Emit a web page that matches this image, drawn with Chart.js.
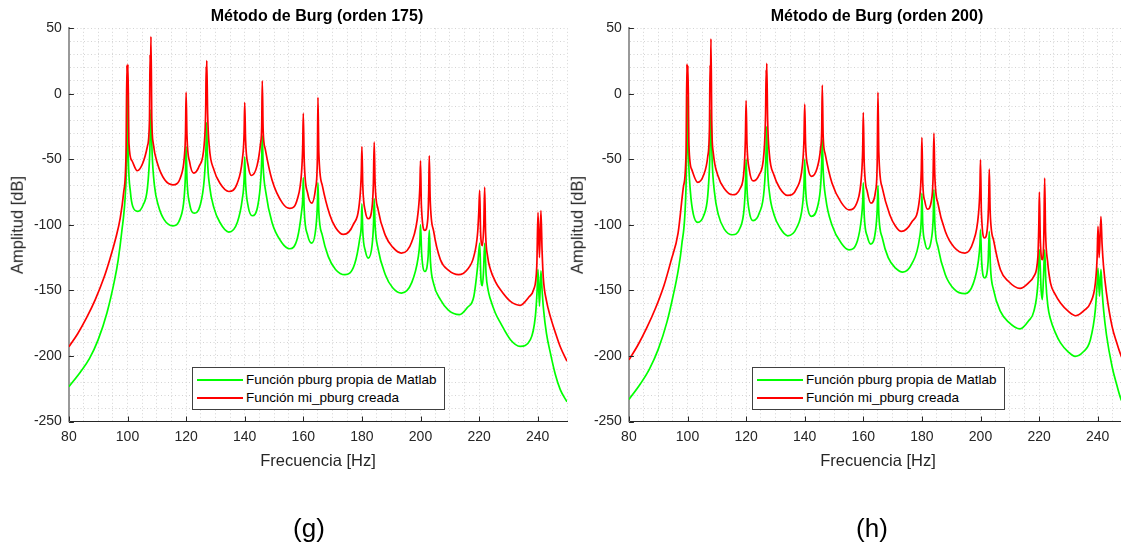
<!DOCTYPE html>
<html>
<head>
<meta charset="utf-8">
<script src="https://cdn.jsdelivr.net/npm/chart.js@4.4.1/dist/chart.umd.min.js"></script>
<style>
  html, body { margin: 0; padding: 0; width: 1121px; height: 546px; overflow: hidden; background: #fff; }
  body { position: relative; font-family: "Liberation Sans", Arial, sans-serif; color: #262626; }
  canvas { position: absolute; top: 0; }
  .txt { position: absolute; white-space: nowrap; line-height: 1; transform: translate(-50%, -50%); }
  .title { font-weight: bold; font-size: 16px; color: #000; }
  .xlab { font-size: 16.5px; }
  .ylab { font-size: 16.5px; transform: translate(-50%, -50%) rotate(-90deg); }
  .sub { font-size: 26px; color: #000; }
  .legend { position: absolute; width: 251px; height: 41px; border: 1px solid #404040; background: #fff; font-size: 13.5px; color: #000; }
  .legend .sw { position: absolute; left: 4px; width: 46px; height: 2px; }
  .legend .lt { position: absolute; left: 53px; line-height: 1; white-space: nowrap; }
</style>
</head>
<body>
<canvas id="c175" width="580" height="546" style="left:0px"></canvas>
<canvas id="c200" width="580" height="546" style="left:560px"></canvas>

<div class="txt title" id="t175" style="left:317px; top:16px"></div>
<div class="txt title" id="t200" style="left:877px; top:16px"></div>
<div class="txt xlab" style="left:318px; top:460px">Frecuencia [Hz]</div>
<div class="txt xlab" style="left:878px; top:460px">Frecuencia [Hz]</div>
<div class="txt ylab" style="left:17px; top:225px">Amplitud [dB]</div>
<div class="txt ylab" style="left:577px; top:225px">Amplitud [dB]</div>
<div class="txt sub" style="left:309px; top:528px">(g)</div>
<div class="txt sub" style="left:872px; top:528px">(h)</div>

<div class="legend" id="leg175" style="left:192px; top:367px"></div>
<div class="legend" id="leg200" style="left:752px; top:367px"></div>

<script>
// ejes
const xMajor = [80, 100, 120, 140, 160, 180, 200, 220, 240];
const yMajor = [-250, -200, -150, -100, -50, 0, 50];
const seriesNames = ['Función pburg propia de Matlab', 'Función mi_pburg creada'];
const seriesColors = ['#00ff00', '#ff0000'];
const titles = ['Método de Burg (orden 175)', 'Método de Burg (orden 200)'];

// orden 175 - pburg (verde)
const freqG175 = [80, 84, 87, 90, 93, 95.6, 96.8, 98, 99.3, 99.7,
  99.95, 100.3, 101, 101.8, 103.5, 105.3, 106.8, 107.6, 108.0, 108.4,
  109.2, 110.5, 112.5, 115.5, 118, 119.3, 119.8, 120.0, 120.3, 121.2,
  122.8, 124.8, 126.2, 126.8, 127.0, 127.3, 128, 129.5, 131.5, 134.6,
  137.5, 139.2, 139.8, 140.0, 140.3, 141.2, 142.6, 144.5, 145.5, 145.8,
  146.0, 146.3, 147.2, 149.3, 152.5, 155.4, 158, 159.4, 159.8, 160.0,
  160.3, 161.5, 162.9, 164.3, 164.8, 165.0, 165.3, 166.5, 168.5, 171,
  174.2, 177.5, 179.3, 179.8, 180.0, 180.3, 181.2, 182.2, 183.5, 183.95,
  184.2, 184.5, 185.5, 188, 190.5, 193.5, 197, 199.2, 199.8, 200.0,
  200.4, 201.5, 202.6, 203.0, 203.4, 204.5, 206.8, 209.5, 213.3, 216,
  218.2, 219.5, 220.2, 220.6, 221.1, 221.5, 221.9, 222.4, 223.1, 223.9,
  225.5, 227.3, 230.7, 234, 237.5, 239.2, 239.8, 240.1, 240.6, 241.1,
  241.5, 242, 243, 244.3, 246, 247.7, 250];
const dbG175 = [-223.5, -212, -202, -187.5, -167, -142, -127, -106, -75, -50,
  1.7, -50, -75, -86, -89.7, -85, -72, -45, -12, -45,
  -70, -85, -96, -100.7, -95, -80, -60, -40, -65, -84,
  -91, -85, -65, -40, -22, -50, -70, -87, -98, -105.5,
  -98, -80, -65, -48, -68, -86, -93, -85, -65, -50,
  -32, -55, -75, -98, -113, -118.2, -110, -90, -80, -64,
  -88, -108, -113.9, -102, -85, -68, -90, -108, -124, -134,
  -138, -130, -110, -100, -84, -105, -120, -125.3, -115, -100,
  -80, -100, -118, -138, -148, -152, -144, -125, -112, -100,
  -122, -135.5, -124, -104, -128, -145, -157, -165, -168.5, -163,
  -154.6, -131.7, -114, -140, -146.4, -136, -114, -138, -150, -157,
  -167, -174.8, -187.6, -192.7, -187.6, -169.8, -150, -134, -162, -135,
  -150, -164.7, -183, -197.5, -214, -225.7, -235];

// orden 175 - mi_pburg (rojo)
const freqR175 = [80, 83, 86, 89, 92, 94, 96, 97.5, 98.7, 99.5,
  99.8, 99.95, 100.15, 100.5, 101.5, 103.3, 105.2, 106.8, 107.5, 107.7,
  107.85, 108.0, 108.3, 108.8, 110.2, 112.7, 115.5, 118.2, 119.4, 119.8,
  120.0, 120.3, 121.2, 122.6, 124.5, 126.2, 126.7, 126.85, 126.95, 127.05,
  127.35, 127.9, 129.5, 131.5, 134.6, 137.5, 139.2, 139.8, 140.0, 140.3,
  141.2, 142.3, 144.2, 145.4, 145.8, 146.0, 146.3, 147, 149.3, 152.9,
  155.4, 158, 159.4, 159.8, 160.0, 160.3, 161.5, 162.9, 164.2, 164.8,
  165.0, 165.3, 166.5, 169, 171, 173.7, 177, 179.3, 179.8, 180.0,
  180.3, 181.2, 182.2, 183.4, 183.9, 184.2, 184.5, 185.5, 188, 190.5,
  193.5, 197, 199.2, 199.8, 200.0, 200.3, 201.5, 202.5, 202.8, 203.0,
  203.3, 204.5, 206.8, 209.5, 213, 216, 218.2, 219.5, 219.9, 220.2,
  220.5, 221.1, 221.6, 221.9, 222.2, 222.9, 223.9, 225.5, 227.3, 230.7,
  234, 237, 238.6, 239.7, 240.1, 240.6, 241.1, 241.5, 241.9, 243,
  244.3, 246, 247.7, 250];
const dbR175 = [-193, -183, -171, -157, -140, -126, -110, -95, -75, -45,
  22, 0, 22.5, -38, -51, -58.7, -53, -40, -20, 30,
  10, 43.6, -20, -38, -53, -65.6, -69.4, -63, -48, -30,
  1.2, -32, -52, -60.5, -55, -38, -10, 21, 10, 25.4,
  -15, -40, -58, -68, -74.5, -68, -50, -30, -6.7, -35,
  -55, -62.3, -55, -38, -25, 9.9, -28, -42, -65.6, -83.4,
  -87.4, -80, -60, -40, -14.8, -50, -76, -83.4, -72, -50,
  -2.6, -45, -70, -92, -102, -107.3, -100, -80, -60, -40.2,
  -70, -90, -95.3, -88, -70, -36.9, -68, -88, -108, -117,
  -121.5, -113, -90, -70, -51.1, -85, -104.2, -95, -75, -47.3,
  -80, -105, -126.6, -134.5, -138, -134, -124, -106, -90, -73.7,
  -105, -115.9, -100, -71.2, -105, -124, -134.2, -143, -149.5, -158.4,
  -161.4, -155, -149.5, -131, -90.5, -125, -89, -120, -140, -158,
  -169.8, -182, -193, -204];

// orden 200 - pburg (verde)
const freqG200 = [80, 84, 87, 90, 93, 95, 96.8, 98, 99.5, 99.75,
  99.95, 100.3, 101, 102, 103.5, 105.5, 106.9, 107.6, 108.0, 108.4,
  109.2, 110.5, 112.5, 115.3, 118, 119.3, 119.8, 120.0, 120.3, 121.1,
  122.4, 124.5, 126.2, 126.8, 127.0, 127.3, 128, 129.5, 131.5, 134.2,
  137.3, 139.2, 139.75, 140.0, 140.3, 141.1, 142.3, 144.4, 145.5, 145.8,
  146.0, 146.3, 147.2, 149.3, 152.5, 155.1, 158, 159.4, 159.8, 160.0,
  160.3, 161.4, 162.6, 164.2, 164.75, 165.0, 165.3, 166.5, 168.5, 171,
  173.5, 176.5, 179.2, 179.8, 180.0, 180.3, 181.0, 181.9, 183.3, 183.85,
  184.1, 184.4, 185.5, 188, 191, 194.7, 197.5, 199.3, 199.8, 200.0,
  200.4, 201.4, 202.6, 203.0, 203.4, 204.5, 206.8, 209.5, 213.5, 216.5,
  218.2, 219.6, 220.1, 220.7, 221.1, 221.5, 221.9, 222.3, 223.0, 223.9,
  225.5, 227.3, 230, 232.3, 235, 237.5, 239.2, 239.8, 240.1, 240.6,
  241.1, 241.5, 242, 243, 244.9, 246.5, 248, 250];
const dbG200 = [-233.3, -221, -210, -195, -174, -155, -135, -116, -71, -40,
  -2, -45, -75, -92, -98.1, -93, -78, -50, -12, -50,
  -75, -92, -103, -107.5, -102, -88, -68, -50, -72, -90,
  -96.8, -91, -72, -45, -25, -55, -76, -92, -102, -108.3,
  -102, -86, -70, -50, -72, -88, -93.5, -86, -68, -52,
  -35, -58, -80, -100, -114, -119, -112, -94, -82, -68,
  -92, -109, -114.6, -104, -88, -70, -92, -110, -125, -133,
  -136, -130, -110, -95, -76, -100, -113, -118.4, -110, -95,
  -73, -98, -117, -138, -149, -152.5, -145, -127, -115, -103.7,
  -128, -140.5, -128, -105, -132, -150, -166, -174, -179.4, -173,
  -166, -144.4, -119, -150, -157, -140, -119, -143, -162, -172,
  -182, -190, -197, -200.3, -197, -187.6, -164.7, -145, -133, -154.6,
  -134, -150, -164.7, -184, -208, -222, -233.3, -240];

// orden 200 - mi_pburg (rojo)
const freqR200 = [80, 83, 86, 89, 92, 94.3, 96.8, 98.6, 99.5, 99.8,
  99.95, 100.15, 100.5, 101.5, 103.5, 105.5, 106.9, 107.5, 107.7, 107.85,
  108.0, 108.3, 108.8, 110.3, 112.8, 115.3, 118, 119.3, 119.75, 120.0,
  120.3, 121.1, 122.4, 124.4, 126.1, 126.65, 126.85, 126.95, 127.05, 127.35,
  127.9, 129.5, 131.5, 134.2, 137.3, 139.2, 139.75, 140.0, 140.3, 141.1,
  142.3, 144.2, 145.4, 145.8, 146.0, 146.3, 147, 149.3, 152.5, 155.1,
  158, 159.4, 159.8, 160.0, 160.3, 161.4, 162.6, 164.2, 164.75, 165.0,
  165.3, 166.5, 169, 171, 173, 176.5, 179.2, 179.8, 180.0, 180.3,
  181.0, 181.9, 183.2, 183.8, 184.1, 184.4, 185.5, 188, 191, 194.7,
  197.5, 199.3, 199.8, 200.0, 200.3, 201.4, 202.5, 202.8, 203.0, 203.3,
  204.5, 206.8, 209.5, 213.5, 216.5, 218.2, 219.6, 219.9, 220.1, 220.4,
  221.1, 221.6, 221.9, 222.2, 222.9, 223.9, 225.5, 227.3, 230, 232.5,
  235.5, 237.5, 239.2, 239.8, 240.1, 240.5, 241.1, 241.5, 242, 243,
  244.9, 246.5, 248, 250];
const dbR200 = [-203, -192, -179, -164, -146, -128, -106, -71, -45, 22.6,
  0, 21.5, -40, -58, -67.6, -62, -48, -25, 22, 5,
  41.9, -25, -45, -62, -73, -77, -72, -58, -35, -5.1,
  -38, -58, -66.4, -62, -45, -15, 18.2, 5, 23.3, -20,
  -45, -62, -72, -77.5, -72, -55, -35, -7.9, -38, -56,
  -63, -57, -42, -28, 6.6, -32, -46, -68, -83, -88.5,
  -82, -62, -42, -14.3, -52, -75, -83.4, -74, -52, 1.2,
  -45, -72, -92, -101, -105, -98, -80, -58, -33.3, -68,
  -82, -88, -82, -65, -30, -62, -84, -105, -117, -121.5,
  -113, -92, -72, -50.4, -90, -110, -98, -80, -57.5, -90,
  -112, -134.2, -143, -148.5, -144, -139.3, -124, -100, -75, -110,
  -126.6, -110, -64.3, -105, -128, -144.4, -153, -159.6, -166, -169.3,
  -165, -159.6, -144.4, -125, -101.2, -125, -93.6, -115, -131.7, -152,
  -177.4, -190, -200, -209];

const toPoints = (fs, ds) => fs.map((f, i) => ({ x: f, y: ds[i] }));

// marcas de los ejes hacia dentro, como en Matlab
const innerTicks = {
  id: 'innerTicks',
  afterDatasetsDraw(chart) {
    const { ctx, chartArea: a, scales: { x, y } } = chart;
    ctx.save();
    ctx.strokeStyle = '#262626';
    ctx.lineWidth = 1;
    ctx.beginPath();
    xMajor.forEach(v => {
      const px = Math.round(x.getPixelForValue(v)) + 0.5;
      ctx.moveTo(px, a.bottom);
      ctx.lineTo(px, a.bottom - 5);
    });
    yMajor.forEach(v => {
      const py = Math.round(y.getPixelForValue(v)) + 0.5;
      ctx.moveTo(a.left, py);
      ctx.lineTo(a.left + 5, py);
    });
    ctx.stroke();
    ctx.restore();
  }
};

const tickFont = { family: '"Liberation Sans", Arial, sans-serif', size: 14 };

function makeChart(id, fG, dG, fR, dR) {
  return new Chart(document.getElementById(id), {
    type: 'line',
    data: {
      datasets: [{
        label: seriesNames[0],
        data: toPoints(fG, dG),
        borderColor: seriesColors[0],
        order: 1
      }, {
        label: seriesNames[1],
        data: toPoints(fR, dR),
        borderColor: seriesColors[1],
        order: 0
      }]
    },
    options: {
      responsive: false,
      animation: false,
      layout: { padding: { left: 8.9, right: 13, top: 28.3, bottom: 94.5 } },
      elements: {
        point: { radius: 0 },
        line: { borderWidth: 1.7, cubicInterpolationMode: 'monotone' }
      },
      plugins: { legend: { display: false }, tooltip: { enabled: false } },
      scales: {
        x: {
          type: 'linear', min: 80, max: 250,
          afterFit: s => { s.height = 30; },
          ticks: {
            stepSize: 5, autoSkip: false, maxRotation: 0, padding: 7,
            color: '#262626', font: tickFont,
            callback: v => (v % 20 === 0 && v <= 240) ? String(v) : ''
          },
          grid: { color: '#d4d4d4', drawTicks: false },
          border: { color: '#262626', width: 1, dash: [1, 2.5] }
        },
        y: {
          type: 'linear', min: -250, max: 50,
          afterFit: s => { s.width = 60; },
          ticks: {
            stepSize: 10, autoSkip: false, padding: 7,
            color: '#262626', font: tickFont,
            callback: v => (v % 50 === 0) ? String(v) : ''
          },
          grid: { color: '#d4d4d4', drawTicks: false },
          border: { color: '#999999', width: 2, dash: [1, 2.5] }
        }
      }
    },
    plugins: [innerTicks]
  });
}

makeChart('c175', freqG175, dbG175, freqR175, dbR175);
makeChart('c200', freqG200, dbG200, freqR200, dbR200);

document.getElementById('t175').textContent = titles[0];
document.getElementById('t200').textContent = titles[1];

['leg175', 'leg200'].forEach(id => {
  const box = document.getElementById(id);
  seriesNames.forEach((name, i) => {
    const cy = i === 0 ? 12 : 30;
    const sw = document.createElement('div');
    sw.className = 'sw';
    sw.style.top = (cy - 1) + 'px';
    sw.style.background = seriesColors[i];
    const lt = document.createElement('div');
    lt.className = 'lt';
    lt.style.top = (cy - 7) + 'px';
    lt.textContent = name;
    box.appendChild(sw);
    box.appendChild(lt);
  });
});
</script>
</body>
</html>
